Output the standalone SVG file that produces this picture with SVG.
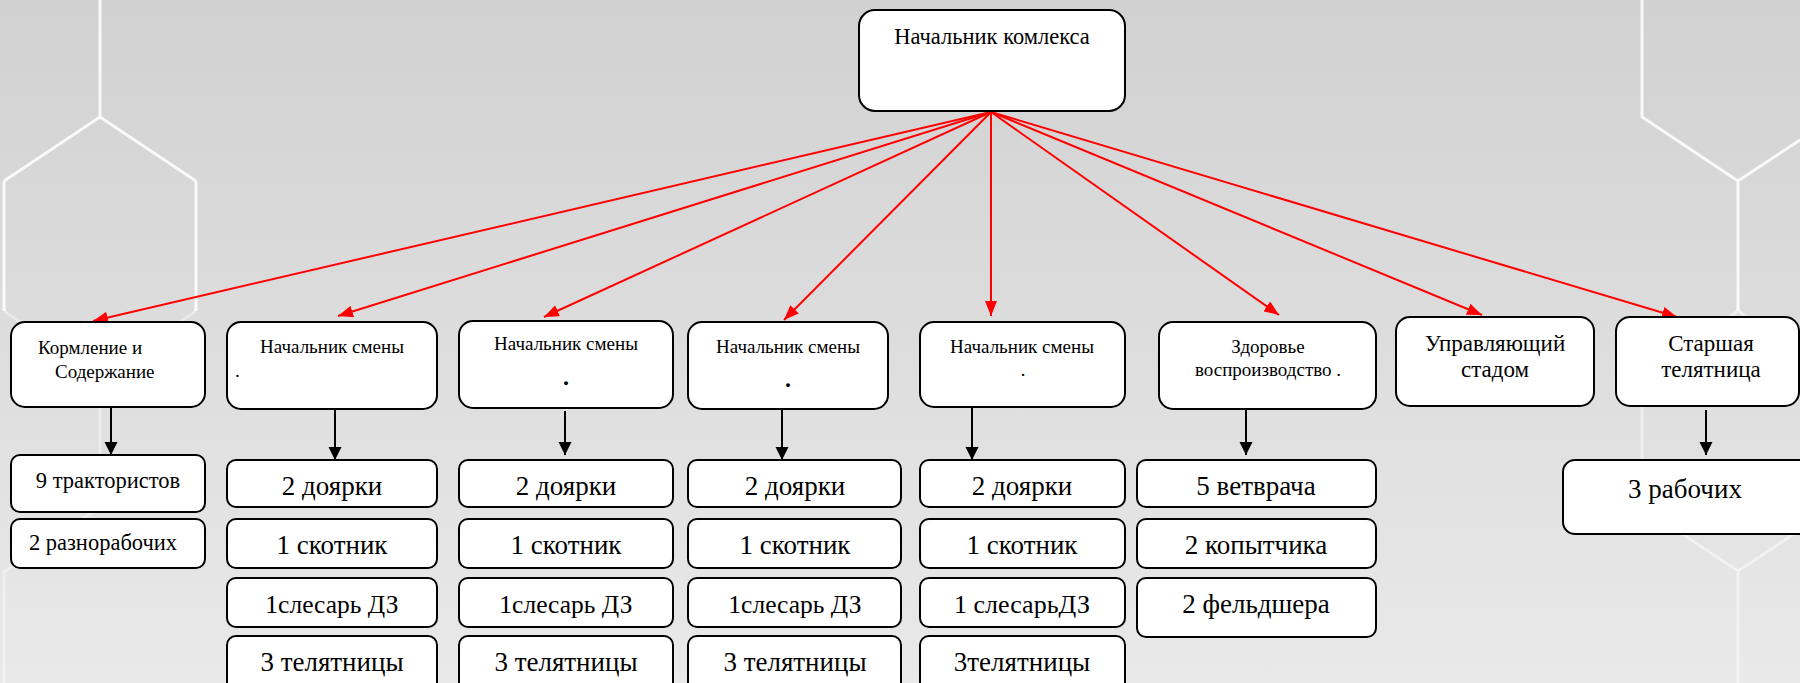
<svg xmlns="http://www.w3.org/2000/svg" width="1800" height="683" viewBox="0 0 1800 683" font-family="'Liberation Serif', 'DejaVu Serif', serif">
<defs>
<linearGradient id="bg" x1="0" y1="0" x2="0" y2="1">
<stop offset="0" stop-color="#d2d1d2"/>
<stop offset="1" stop-color="#e9e9e9"/>
</linearGradient>
<marker id="ra" markerUnits="userSpaceOnUse" markerWidth="16" markerHeight="12" refX="15" refY="6" orient="auto">
<path d="M0,0 L15,6 L0,12 z" fill="#ff0000"/>
</marker>
<marker id="ba" markerUnits="userSpaceOnUse" markerWidth="14" markerHeight="14" refX="13" refY="6.5" orient="auto">
<path d="M0,0 L13,6.5 L0,13 z" fill="#000"/>
</marker>
</defs>
<style>
.b{fill:#fff;stroke:#000;stroke-width:2}
text{font-family:'Liberation Serif','DejaVu Serif',serif;fill:#000}
.s{font-size:19px}
.m{font-size:23px}
.l{font-size:27px}
.k{font-size:22.5px}
.c{text-anchor:middle}
.hx{stroke:#fff;stroke-width:3;fill:none}
.red{stroke:#ff0000;stroke-width:2;fill:none;marker-end:url(#ra)}
.blk{stroke:#000;stroke-width:2;fill:none;marker-end:url(#ba)}
</style>
<rect width="1800" height="683" fill="url(#bg)"/>
<g id="background">
<path class="hx" opacity="0.85" d="M100,0 V117 L4,181 M100,117 L196,181 M4,181 V311 M196,181 V311"/>
<path class="hx" opacity="0.4" d="M4,311 L100,375 L196,311 M100,375 V507 L4,572 V683"/>
<path class="hx" opacity="0.85" d="M1642,0 V117 L1738,181 L1800,140 M1738,181 V311"/>
<path class="hx" opacity="0.5" d="M1738,311 L1642,375 V507 L1738,571 L1800,530 M1738,311 L1800,352 M1738,571 V683"/>
</g>
<g id="connectors">
<line class="red" x1="991" y1="112" x2="93" y2="321"/>
<line class="red" x1="991" y1="112" x2="338" y2="316"/>
<line class="red" x1="991" y1="112" x2="544" y2="317"/>
<line class="red" x1="991" y1="112" x2="784" y2="320"/>
<line class="red" x1="991" y1="112" x2="991" y2="316"/>
<line class="red" x1="991" y1="112" x2="1279" y2="315"/>
<line class="red" x1="991" y1="112" x2="1482" y2="315"/>
<line class="red" x1="991" y1="112" x2="1677" y2="317"/>
<line class="blk" x1="111" y1="407" x2="111" y2="455"/>
<line class="blk" x1="335" y1="410" x2="335" y2="460"/>
<line class="blk" x1="565" y1="411" x2="565" y2="455"/>
<line class="blk" x1="782" y1="407" x2="782" y2="460"/>
<line class="blk" x1="972" y1="407" x2="972" y2="460"/>
<line class="blk" x1="1246" y1="410" x2="1246" y2="455"/>
<line class="blk" x1="1706" y1="410" x2="1706" y2="455"/>
</g>
<g id="n-top"><rect class="b" x="859" y="10" width="266" height="101" rx="16"/><text class="c" x="992" y="44" font-size="22.5">Начальник комлекса</text></g>
<g id="n-korm"><rect class="b" x="11" y="322" width="194" height="85" rx="14"/><text class="s" x="38" y="354">Кормление и</text><text class="s" x="55" y="378">Содержание</text></g>
<g id="n-s1"><rect class="b" x="227" y="322" width="210" height="87" rx="14"/><text class="s c" x="332" y="353">Начальник смены</text><text class="s" x="235" y="377">.</text></g>
<g id="n-s2"><rect class="b" x="459" y="321" width="214" height="87" rx="14"/><text class="s c" x="566" y="350">Начальник смены</text><text class="c" x="566" y="385" font-size="24" font-weight="bold">.</text></g>
<g id="n-s3"><rect class="b" x="688" y="322" width="200" height="87" rx="14"/><text class="s c" x="788" y="353">Начальник смены</text><text class="c" x="788" y="387" font-size="24" font-weight="bold">.</text></g>
<g id="n-s4"><rect class="b" x="920" y="322" width="205" height="85" rx="14"/><text class="s c" x="1022" y="353">Начальник смены</text><text class="s c" x="1023" y="376">.</text></g>
<g id="n-zdor"><rect class="b" x="1159" y="322" width="217" height="87" rx="14"/><text class="s c" x="1268" y="353">Здоровье</text><text class="s c" x="1268" y="376">воспроизводство .</text></g>
<g id="n-upr"><rect class="b" x="1396" y="317" width="198" height="89" rx="14"/><text class="m c" x="1495" y="351">Управляющий</text><text class="m c" x="1495" y="377">стадом</text></g>
<g id="n-star"><rect class="b" x="1616" y="317" width="183" height="89" rx="14"/><text class="m c" x="1711" y="351">Старшая</text><text class="m c" x="1711" y="377">телятница</text></g>
<g id="n-c1a"><rect class="b" x="11" y="455" width="194" height="57" rx="9"/><text class="k c" x="108" y="488">9 трактористов</text></g>
<g id="n-c1b"><rect class="b" x="11" y="519" width="194" height="49" rx="9"/><text class="k c" x="103" y="550">2 разнорабочих</text></g>
<g id="n-c2a"><rect class="b" x="227" y="460" width="210" height="47" rx="9"/><text class="l c" x="332" y="495">2 доярки</text></g>
<g id="n-c2b"><rect class="b" x="227" y="519" width="210" height="49" rx="9"/><text class="l c" x="332" y="554">1 скотник</text></g>
<g id="n-c2c"><rect class="b" x="227" y="578" width="210" height="49" rx="9"/><text class="c" x="332" y="613" font-size="25.5">1слесарь ДЗ</text></g>
<g id="n-c2d"><rect class="b" x="227" y="636" width="210" height="60" rx="9"/><text class="l c" x="332" y="671">3 телятницы</text></g>
<g id="n-c3a"><rect class="b" x="459" y="460" width="214" height="47" rx="9"/><text class="l c" x="566" y="495">2 доярки</text></g>
<g id="n-c3b"><rect class="b" x="459" y="519" width="214" height="49" rx="9"/><text class="l c" x="566" y="554">1 скотник</text></g>
<g id="n-c3c"><rect class="b" x="459" y="578" width="214" height="49" rx="9"/><text class="c" x="566" y="613" font-size="25.5">1слесарь ДЗ</text></g>
<g id="n-c3d"><rect class="b" x="459" y="636" width="214" height="60" rx="9"/><text class="l c" x="566" y="671">3 телятницы</text></g>
<g id="n-c4a"><rect class="b" x="688" y="460" width="213" height="47" rx="9"/><text class="l c" x="795" y="495">2 доярки</text></g>
<g id="n-c4b"><rect class="b" x="688" y="519" width="213" height="49" rx="9"/><text class="l c" x="795" y="554">1 скотник</text></g>
<g id="n-c4c"><rect class="b" x="688" y="578" width="213" height="49" rx="9"/><text class="c" x="795" y="613" font-size="25.5">1слесарь ДЗ</text></g>
<g id="n-c4d"><rect class="b" x="688" y="636" width="213" height="60" rx="9"/><text class="l c" x="795" y="671">3 телятницы</text></g>
<g id="n-c5a"><rect class="b" x="920" y="460" width="205" height="47" rx="9"/><text class="l c" x="1022" y="495">2 доярки</text></g>
<g id="n-c5b"><rect class="b" x="920" y="519" width="205" height="49" rx="9"/><text class="l c" x="1022" y="554">1 скотник</text></g>
<g id="n-c5c"><rect class="b" x="920" y="578" width="205" height="49" rx="9"/><text class="c" x="1022" y="613" font-size="26">1 слесарьДЗ</text></g>
<g id="n-c5d"><rect class="b" x="920" y="636" width="205" height="60" rx="9"/><text class="l c" x="1022" y="671">3телятницы</text></g>
<g id="n-c6a"><rect class="b" x="1137" y="460" width="239" height="47" rx="9"/><text class="l c" x="1256" y="495">5 ветврача</text></g>
<g id="n-c6b"><rect class="b" x="1137" y="519" width="239" height="49" rx="9"/><text class="l c" x="1256" y="554">2 копытчика</text></g>
<g id="n-c6c"><rect class="b" x="1137" y="578" width="239" height="59" rx="9"/><text class="l c" x="1256" y="613">2 фельдшера</text></g>
<g id="n-c8"><rect class="b" x="1563" y="460" width="250" height="74" rx="12"/><text class="c" x="1685" y="498" font-size="27">3 рабочих</text></g>
</svg>
